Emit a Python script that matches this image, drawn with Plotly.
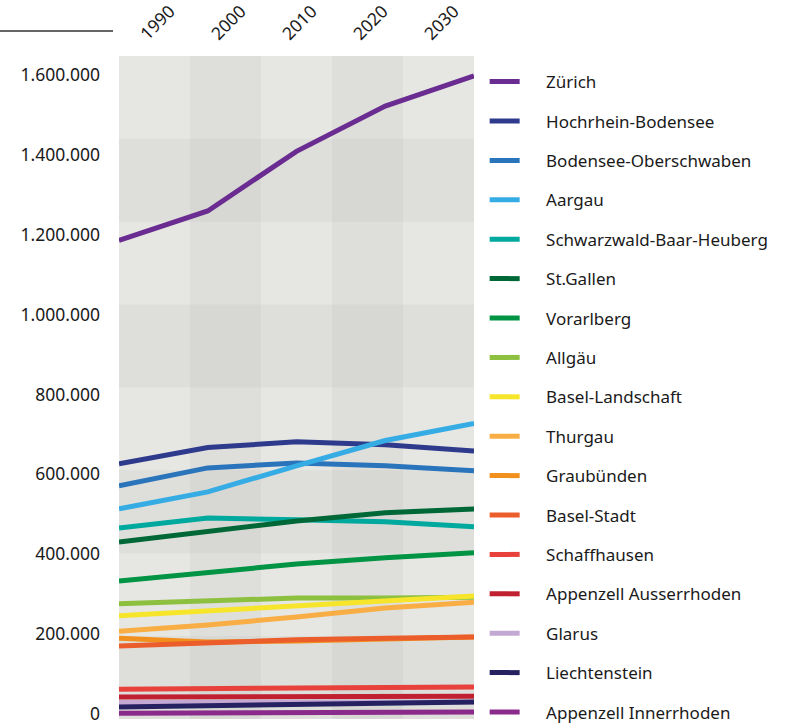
import plotly.graph_objects as go

years = [1990, 2000, 2010, 2020, 2030]

regions = [
    "Zürich", "Hochrhein-Bodensee", "Bodensee-Oberschwaben", "Aargau",
    "Schwarzwald-Baar-Heuberg", "St.Gallen", "Vorarlberg", "Allgäu",
    "Basel-Landschaft", "Thurgau", "Graubünden", "Basel-Stadt",
    "Schaffhausen", "Appenzell Ausserrhoden", "Glarus", "Liechtenstein",
    "Appenzell Innerrhoden",
]

zuerich = [1155000, 1226000, 1370000, 1479000, 1552000]
hochrhein_bodensee = [616000, 655000, 669000, 662000, 647000]
bodensee_oberschwaben = [563000, 606000, 618000, 611000, 599000]
aargau = [507000, 548000, 611000, 672000, 713000]
schwarzwald_baar_heuberg = [461000, 485000, 481000, 476000, 464000]
st_gallen = [427000, 452000, 478000, 498000, 507000]
vorarlberg = [333000, 355000, 374000, 389000, 401000]
allgaeu = [278000, 285000, 292000, 292000, 294000]
basel_landschaft = [249000, 261000, 273000, 287000, 297000]
thurgau = [212000, 227000, 246000, 268000, 282000]
graubuenden = [195000, 186000, 188000, 194000, 198000]
basel_stadt = [176000, 184000, 191000, 195000, 198000]
schaffhausen = [72000, 73000, 75000, 76000, 77000]
appenzell_ar = [53000, 53000, 54000, 55000, 55000]
glarus = [40000, 40000, 40000, 40000, 41000]
liechtenstein = [29000, 32000, 36000, 39000, 41000]
appenzell_ir = [14000, 15000, 15000, 16000, 17000]

series = [
    zuerich, hochrhein_bodensee, bodensee_oberschwaben, aargau,
    schwarzwald_baar_heuberg, st_gallen, vorarlberg, allgaeu,
    basel_landschaft, thurgau, graubuenden, basel_stadt,
    schaffhausen, appenzell_ar, glarus, liechtenstein, appenzell_ir,
]

colors = [
    "#6a2c91", "#2e3a8c", "#2a74bb", "#35ace4", "#00a99d", "#006837",
    "#009444", "#8dc03f", "#f7e52b", "#f9ae45", "#f2901e", "#eb5d2a",
    "#e8403a", "#c0202f", "#c3a8d3", "#262262", "#8a2a8b",
]

y_ticks = [0, 200000, 400000, 600000, 800000, 1000000, 1200000, 1400000, 1600000]
y_ticktext = [f"{v:,}".replace(",", ".") for v in y_ticks]
Y_MAX = 1600000

FONT = "Noto Sans"
LEGEND_PAD = "\u2003\u00a0"  # pushes legend text away from the line sample

fig = go.Figure()
for name, vals, col in zip(regions, series, colors):
    fig.add_trace(go.Scatter(
        x=years, y=vals, name=LEGEND_PAD + name, mode="lines",
        line=dict(color=col, width=5), legendgroup=name,
        hoverinfo="skip",
    ))

# empty trace so the label axes (column axis on top, label axis on left) get drawn
fig.add_trace(go.Scatter(x=[], y=[], xaxis="x2", yaxis="y2", showlegend=False, hoverinfo="skip"))

shapes = []
# base panel
shapes.append(dict(type="rect", xref="paper", yref="y", x0=0, x1=1, y0=0, y1=Y_MAX,
                   fillcolor="#e6e6e2", line_width=0, layer="below"))
# darker columns (2nd and 4th)
for i in (1, 3):
    shapes.append(dict(type="rect", xref="x2", yref="y", x0=i - 0.5, x1=i + 0.5,
                       y0=0, y1=Y_MAX, fillcolor="rgba(0,0,0,0.03)", line_width=0, layer="below"))
# darker rows
for lo in (0, 400000, 800000, 1200000):
    shapes.append(dict(type="rect", xref="paper", yref="y", x0=0, x1=1,
                       y0=lo, y1=lo + 200000, fillcolor="rgba(0,0,0,0.03)", line_width=0, layer="below"))
# rule above the y labels
shapes.append(dict(type="line", xref="paper", yref="paper", x0=-119 / 355, x1=-6 / 355,
                   y0=(728 - 31) / 672, y1=(728 - 31) / 672,
                   line=dict(color="#333333", width=1.5)))

fig.update_layout(
    width=794, height=728,
    margin=dict(l=119, r=320, t=56, b=0, autoexpand=False),
    paper_bgcolor="white",
    plot_bgcolor="white",
    font=dict(family=FONT, size=17, color="#1a1a1a"),
    shapes=shapes,
    showlegend=True,
    legend=dict(
        x=1.03, xanchor="left", y=0.988, yanchor="top",
        tracegroupgap=14.3, font=dict(size=17, color="#1a1a1a"),
        bgcolor="rgba(0,0,0,0)",
    ),
    xaxis=dict(range=[1990, 2030], visible=False, fixedrange=True, automargin=False),
    yaxis=dict(range=[-21720, Y_MAX], visible=False, fixedrange=True, automargin=False),
    xaxis2=dict(
        overlaying="x", side="top", anchor="y2", range=[-0.5, 4.5],
        tickvals=[0, 1, 2, 3, 4], ticktext=[str(y) for y in years],
        tickangle=-45, showgrid=False, zeroline=False, showline=False, ticks="",
        tickfont=dict(size=17.5),
        ticklabelshift=-13, ticklabelstandoff=8, automargin=False, fixedrange=True,
    ),
    yaxis2=dict(
        overlaying="y", side="left", anchor="x2", range=[-35040, 1647000],
        tickvals=y_ticks, ticktext=y_ticktext, tickfont=dict(size=17.5),
        showgrid=False, zeroline=False, showline=False, ticks="",
        ticklabelstandoff=18, automargin=False, fixedrange=True,
    ),
)

fig.write_html(
    "out.html",
    config={"displayModeBar": False},
    post_script="document.body.style.margin='0';",
)
